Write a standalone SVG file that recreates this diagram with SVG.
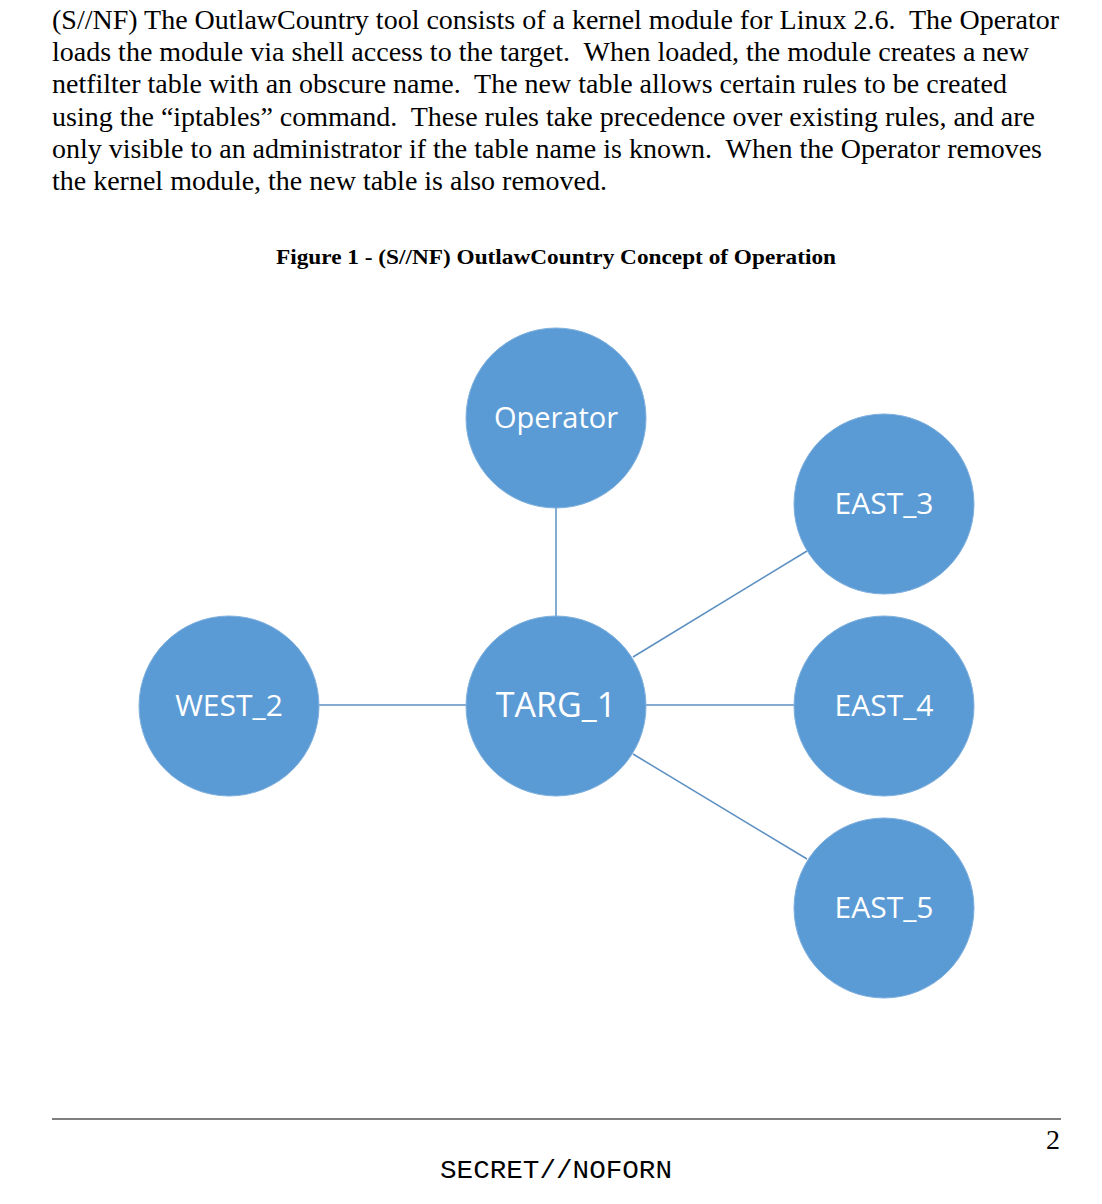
<svg xmlns="http://www.w3.org/2000/svg" width="1102" height="1204" viewBox="0 0 1102 1204" xml:space="preserve">
<style>
text{white-space:pre}
.body{font-family:"Liberation Serif","Times New Roman",serif;font-size:26.5px;fill:#000}
.cap{font-family:"Liberation Serif","Times New Roman",serif;font-size:22px;font-weight:bold;fill:#000}
.node circle{fill:#5b9bd5;stroke:#7fb0dd;stroke-width:1}
.node text{font-family:"Open Sans","Noto Sans",sans-serif;font-size:29px;fill:#fff;text-anchor:middle}
.edge line{stroke:#5b8fc2;stroke-width:1.5}
</style>
<rect width="1102" height="1204" fill="#fff"/>
<g id="body-text">
<text class="body" x="52" y="29" textLength="1007" lengthAdjust="spacingAndGlyphs">(S//NF) The OutlawCountry tool consists of a kernel module for Linux 2.6.  The Operator</text>
<text class="body" x="52" y="61" textLength="977" lengthAdjust="spacingAndGlyphs">loads the module via shell access to the target.  When loaded, the module creates a new</text>
<text class="body" x="52" y="93" textLength="955" lengthAdjust="spacingAndGlyphs">netfilter table with an obscure name.  The new table allows certain rules to be created</text>
<text class="body" x="52" y="126" textLength="983" lengthAdjust="spacingAndGlyphs">using the “iptables” command.  These rules take precedence over existing rules, and are</text>
<text class="body" x="52" y="158" textLength="990" lengthAdjust="spacingAndGlyphs">only visible to an administrator if the table name is known.  When the Operator removes</text>
<text class="body" x="52" y="190" textLength="555" lengthAdjust="spacingAndGlyphs">the kernel module, the new table is also removed.</text>
</g>
<text id="caption" class="cap" x="556" y="264" text-anchor="middle" textLength="560" lengthAdjust="spacingAndGlyphs">Figure 1 - (S//NF) OutlawCountry Concept of Operation</text>
<g id="connectors" class="edge">
<line x1="556" y1="508" x2="556" y2="616"/>
<line x1="319" y1="705" x2="466" y2="705"/>
<line x1="646" y1="705" x2="794" y2="705"/>
<line x1="633" y1="657" x2="807" y2="551"/>
<line x1="633" y1="754" x2="807" y2="859"/>
</g>
<g id="operator" class="node"><circle cx="556" cy="418" r="90"/><text x="556" y="428">Operator</text></g>
<g id="targ1" class="node"><circle cx="556" cy="706" r="90"/><text x="556" y="717" style="font-size:34px">TARG_1</text></g>
<g id="west2" class="node"><circle cx="229" cy="706" r="90"/><text x="229" y="716" style="font-size:30px">WEST_2</text></g>
<g id="east3" class="node"><circle cx="884" cy="504" r="90"/><text x="884" y="514" style="font-size:30px">EAST_3</text></g>
<g id="east4" class="node"><circle cx="884" cy="706" r="90"/><text x="884" y="716" style="font-size:30px">EAST_4</text></g>
<g id="east5" class="node"><circle cx="884" cy="908" r="90"/><text x="884" y="918" style="font-size:30px">EAST_5</text></g>
<g id="footer">
<line x1="52" y1="1119" x2="1061" y2="1119" stroke="#000" stroke-width="1.2"/>
<text x="1060" y="1149" text-anchor="end" style="font-family:'Liberation Serif',serif;font-size:28px">2</text>
<text x="556" y="1178" text-anchor="middle" textLength="232" lengthAdjust="spacingAndGlyphs" style="font-family:'Liberation Mono','Courier New',monospace;font-size:26px">SECRET//NOFORN</text>
</g>
</svg>
